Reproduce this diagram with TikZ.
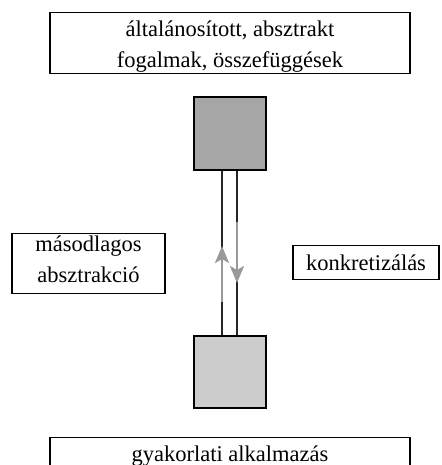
\documentclass[tikz,border=0pt]{standalone}
\usepackage{fontspec}
\setmainfont{Liberation Serif}
\usetikzlibrary{arrows.meta, calc}
\tikzset{
  txtbox/.style={draw, line width=1.2pt, align=center, inner sep=0pt, anchor=north,
    font=\fontsize{22.5}{31}\selectfont},
  sqbox/.style={draw, line width=1.8pt, minimum width=72pt, minimum height=72pt, inner sep=0pt},
  rail/.style={line width=2.8pt, black!85},
  flow/.style={line width=2.8pt, black!40, -{Stealth[length=17pt, width=14pt, inset=4pt]}},
}

\begin{document}
\begin{tikzpicture}[x=1pt, y=-1pt]
  % kép határai
  \useasboundingbox (0,0) rectangle (441,465);
  \clip (0,0) rectangle (441,465);

  % szöveges dobozok (text height = az utolsó sor alapvonaláig)
  \node[txtbox, minimum width=360pt, text height=55pt, text depth=6pt] (abstract) at (230,12)
    {általánosított, absztrakt\\fogalmak, összefüggések};
  \node[txtbox, minimum width=153pt, text height=49pt, text depth=11pt] (secondary) at (88.5,233)
    {másodlagos\\absztrakció};
  \node[txtbox, minimum width=146pt, text height=25pt, text depth=9pt] (concrete) at (366,245)
    {konkretizálás};
  \node[txtbox, minimum width=360pt, text height=24pt, text depth=40pt] (practice) at (230,437)
    {gyakorlati alkalmazás};

  % a két négyzet
  \node[sqbox, fill=black!35, minimum height=73pt] (upper) at (230,133.5) {};
  \node[sqbox, fill=black!20] (lower) at (230,372) {};

  % sínek függőleges helyzete
  \coordinate (lx) at (222,0);
  \coordinate (rx) at (237,0);
  \draw[rail] (upper.south -| lx) -- (lower.north -| lx);
  \draw[rail] (upper.south -| rx) -- (lower.north -| rx);

  % szürke nyilak
  \coordinate (up0) at (222,302);
  \coordinate (up1) at (222,246);
  \coordinate (dn0) at (237,222);
  \coordinate (dn1) at (237,283);
  \draw[flow] (up0) -- (up1);
  \draw[flow] (dn0) -- (dn1);
\end{tikzpicture}
\end{document}
